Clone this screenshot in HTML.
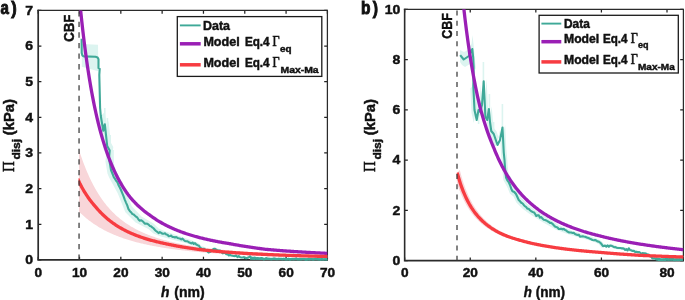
<!DOCTYPE html>
<html><head><meta charset="utf-8"><style>html,body{margin:0;padding:0;background:#fff}svg{display:block}#w{width:685px;height:300px;overflow:hidden;will-change:transform;opacity:0.999}</style></head><body><div id="w"><svg width="685" height="300" viewBox="0 0 685 300">
<rect width="685" height="300" fill="#fff"/>
<defs><clipPath id="ca"><rect x="38.2" y="10.45" width="289.5" height="250.2"/></clipPath><clipPath id="cb"><rect x="404.65" y="9.3" width="279.05" height="252.05"/></clipPath><clipPath id="cra"><rect x="78.5" y="0" width="300" height="300"/></clipPath><clipPath id="cr"><rect x="456.7" y="0" width="300" height="300"/></clipPath></defs>
<path d="M38.20,259.9 v-3.2 M38.20,10.45 v3.2 M79.51,259.9 v-3.2 M79.51,10.45 v3.2 M120.83,259.9 v-3.2 M120.83,10.45 v3.2 M162.14,259.9 v-3.2 M162.14,10.45 v3.2 M203.46,259.9 v-3.2 M203.46,10.45 v3.2 M244.77,259.9 v-3.2 M244.77,10.45 v3.2 M286.08,259.9 v-3.2 M286.08,10.45 v3.2 M327.40,259.9 v-3.2 M327.40,10.45 v3.2 M38.2,259.90 h3.2 M327.4,259.90 h-3.2 M38.2,224.26 h3.2 M327.4,224.26 h-3.2 M38.2,188.63 h3.2 M327.4,188.63 h-3.2 M38.2,152.99 h3.2 M327.4,152.99 h-3.2 M38.2,117.36 h3.2 M327.4,117.36 h-3.2 M38.2,81.72 h3.2 M327.4,81.72 h-3.2 M38.2,46.08 h3.2 M327.4,46.08 h-3.2 M38.2,10.45 h3.2 M327.4,10.45 h-3.2" stroke="#222" stroke-width="1.25" fill="none"/>
<path d="M38.2,9.85 V260.75 M37.300000000000004,259.9 H328.0" stroke="#2b2b2b" stroke-width="1.7" fill="none"/><path d="M37.35,10.45 H327.4 V259.9" stroke="#2b2b2b" stroke-width="1.25" fill="none"/>
<g clip-path="url(#ca)">
<path d="M79.00,149.85 L79.83,152.40 L80.66,154.89 L81.49,157.30 L82.32,159.65 L83.15,161.93 L83.98,164.15 L84.82,166.30 L85.65,168.39 L86.48,170.42 L87.31,172.39 L88.14,174.30 L88.97,176.16 L89.80,177.97 L90.63,179.72 L91.46,181.43 L92.29,183.08 L93.12,184.69 L93.95,186.26 L94.78,187.78 L95.62,189.25 L96.45,190.69 L97.28,192.08 L98.11,193.44 L98.94,194.76 L99.77,196.04 L100.60,197.29 L101.43,198.50 L102.26,199.69 L103.09,200.83 L103.92,201.95 L104.75,203.04 L105.58,204.10 L106.42,205.13 L107.25,206.14 L108.08,207.12 L108.91,208.07 L109.74,209.00 L110.57,209.91 L111.40,210.79 L112.23,211.65 L113.06,212.49 L113.89,213.31 L114.72,214.11 L115.55,214.88 L116.38,215.64 L117.22,216.38 L118.05,217.11 L118.88,217.81 L119.71,218.50 L120.54,219.17 L121.37,219.83 L122.20,220.47 L123.03,221.10 L123.86,221.71 L124.69,222.31 L125.52,222.89 L126.35,223.46 L127.18,224.02 L128.02,224.57 L128.85,225.10 L129.68,225.62 L130.51,226.13 L131.34,226.63 L132.17,227.12 L133.00,227.60 L133.83,228.07 L134.66,228.52 L135.49,228.97 L136.32,229.41 L137.15,229.84 L137.98,230.26 L138.82,230.67 L139.65,231.08 L140.48,231.47 L141.31,231.86 L142.14,232.24 L142.97,232.61 L143.80,232.97 L144.63,233.33 L145.46,233.68 L146.29,234.02 L147.12,234.36 L147.95,234.69 L148.78,235.01 L149.62,235.33 L150.45,235.64 L151.28,235.95 L152.11,236.25 L152.94,236.54 L153.77,236.83 L154.60,237.11 L155.43,237.39 L156.26,237.66 L157.09,237.93 L157.92,238.20 L158.75,238.45 L159.58,238.71 L160.42,238.96 L161.25,239.20 L162.08,239.44 L162.91,239.68 L163.74,239.91 L164.57,240.14 L165.40,240.36 L166.23,240.58 L167.06,240.80 L167.89,241.01 L168.72,241.22 L169.55,241.43 L170.38,241.63 L171.22,241.83 L172.05,242.03 L172.88,242.22 L173.71,242.41 L174.54,242.60 L175.37,242.78 L176.20,242.96 L177.03,243.14 L177.86,243.31 L178.69,243.49 L179.52,243.65 L180.35,243.82 L181.18,243.99 L182.02,244.15 L182.85,244.31 L183.68,244.46 L184.51,244.62 L185.34,244.77 L186.17,244.92 L187.00,245.07 L187.83,245.21 L188.66,245.35 L189.49,245.49 L190.32,245.63 L191.15,245.77 L191.98,245.90 L192.82,246.04 L193.65,246.17 L194.48,246.30 L195.31,246.42 L196.14,246.55 L196.97,246.67 L197.80,246.79 L198.63,246.91 L199.46,247.03 L200.29,247.15 L201.12,247.26 L201.95,247.38 L202.78,247.49 L203.62,247.60 L204.45,247.71 L205.28,247.82 L206.11,247.92 L206.94,248.03 L207.77,248.13 L208.60,248.23 L209.43,248.33 L210.26,248.43 L211.09,248.53 L211.92,248.62 L212.75,248.72 L213.58,248.81 L214.42,248.91 L215.25,249.00 L216.08,249.09 L216.91,249.18 L217.74,249.27 L218.57,249.35 L219.40,249.44 L220.23,249.52 L221.06,249.61 L221.89,249.69 L222.72,249.77 L223.55,249.85 L224.38,249.93 L225.22,250.01 L226.05,250.09 L226.88,250.16 L227.71,250.24 L228.54,250.31 L229.37,250.39 L230.20,250.46 L231.03,250.53 L231.86,250.61 L232.69,250.68 L233.52,250.75 L234.35,250.81 L235.18,250.88 L236.02,250.95 L236.85,251.02 L237.68,251.08 L238.51,251.15 L239.34,251.21 L240.17,251.27 L241.00,251.34 L241.83,251.40 L242.66,251.46 L243.49,251.52 L244.32,251.58 L245.15,251.64 L245.98,251.70 L246.82,251.76 L247.65,251.81 L248.48,251.87 L249.31,251.93 L250.14,251.98 L250.97,252.04 L251.80,252.09 L252.63,252.14 L253.46,252.20 L254.29,252.25 L255.12,252.30 L255.95,252.35 L256.78,252.40 L257.62,252.45 L258.45,252.50 L259.28,252.55 L260.11,252.60 L260.94,252.65 L261.77,252.70 L262.60,252.75 L263.43,252.79 L264.26,252.84 L265.09,252.88 L265.92,252.93 L266.75,252.97 L267.58,253.02 L268.42,253.06 L269.25,253.11 L270.08,253.15 L270.91,253.19 L271.74,253.23 L272.57,253.28 L273.40,253.32 L274.23,253.36 L275.06,253.40 L275.89,253.44 L276.72,253.48 L277.55,253.52 L278.38,253.56 L279.22,253.60 L280.05,253.63 L280.88,253.67 L281.71,253.71 L282.54,253.75 L283.37,253.78 L284.20,253.82 L285.03,253.86 L285.86,253.89 L286.69,253.93 L287.52,253.96 L288.35,254.00 L289.18,254.03 L290.02,254.07 L290.85,254.10 L291.68,254.13 L292.51,254.17 L293.34,254.20 L294.17,254.23 L295.00,254.26 L295.83,254.30 L296.66,254.33 L297.49,254.36 L298.32,254.39 L299.15,254.42 L299.98,254.45 L300.82,254.48 L301.65,254.51 L302.48,254.54 L303.31,254.57 L304.14,254.60 L304.97,254.63 L305.80,254.66 L306.63,254.69 L307.46,254.72 L308.29,254.74 L309.12,254.77 L309.95,254.80 L310.78,254.83 L311.62,254.85 L312.45,254.88 L313.28,254.91 L314.11,254.93 L314.94,254.96 L315.77,254.98 L316.60,255.01 L317.43,255.04 L318.26,255.06 L319.09,255.09 L319.92,255.11 L320.75,255.14 L321.58,255.16 L322.42,255.18 L323.25,255.21 L324.08,255.23 L324.91,255.26 L325.74,255.28 L326.57,255.30 L327.40,255.33 L327.40,257.96 L326.57,257.95 L325.74,257.93 L324.91,257.91 L324.08,257.89 L323.25,257.87 L322.42,257.85 L321.58,257.84 L320.75,257.82 L319.92,257.80 L319.09,257.78 L318.26,257.76 L317.43,257.74 L316.60,257.72 L315.77,257.70 L314.94,257.68 L314.11,257.66 L313.28,257.64 L312.45,257.62 L311.62,257.60 L310.78,257.58 L309.95,257.56 L309.12,257.54 L308.29,257.51 L307.46,257.49 L306.63,257.47 L305.80,257.45 L304.97,257.43 L304.14,257.41 L303.31,257.38 L302.48,257.36 L301.65,257.34 L300.82,257.32 L299.98,257.29 L299.15,257.27 L298.32,257.25 L297.49,257.22 L296.66,257.20 L295.83,257.17 L295.00,257.15 L294.17,257.13 L293.34,257.10 L292.51,257.08 L291.68,257.05 L290.85,257.03 L290.02,257.00 L289.18,256.97 L288.35,256.95 L287.52,256.92 L286.69,256.90 L285.86,256.87 L285.03,256.84 L284.20,256.82 L283.37,256.79 L282.54,256.76 L281.71,256.73 L280.88,256.71 L280.05,256.68 L279.22,256.65 L278.38,256.62 L277.55,256.59 L276.72,256.56 L275.89,256.53 L275.06,256.50 L274.23,256.47 L273.40,256.44 L272.57,256.41 L271.74,256.38 L270.91,256.35 L270.08,256.32 L269.25,256.29 L268.42,256.25 L267.58,256.22 L266.75,256.19 L265.92,256.16 L265.09,256.12 L264.26,256.09 L263.43,256.06 L262.60,256.02 L261.77,255.99 L260.94,255.95 L260.11,255.92 L259.28,255.88 L258.45,255.85 L257.62,255.81 L256.78,255.77 L255.95,255.74 L255.12,255.70 L254.29,255.66 L253.46,255.63 L252.63,255.59 L251.80,255.55 L250.97,255.51 L250.14,255.47 L249.31,255.43 L248.48,255.39 L247.65,255.35 L246.82,255.31 L245.98,255.27 L245.15,255.23 L244.32,255.18 L243.49,255.14 L242.66,255.10 L241.83,255.06 L241.00,255.01 L240.17,254.97 L239.34,254.92 L238.51,254.88 L237.68,254.83 L236.85,254.79 L236.02,254.74 L235.18,254.69 L234.35,254.65 L233.52,254.60 L232.69,254.55 L231.86,254.50 L231.03,254.45 L230.20,254.40 L229.37,254.35 L228.54,254.30 L227.71,254.25 L226.88,254.20 L226.05,254.14 L225.22,254.09 L224.38,254.04 L223.55,253.98 L222.72,253.93 L221.89,253.87 L221.06,253.82 L220.23,253.76 L219.40,253.70 L218.57,253.64 L217.74,253.58 L216.91,253.53 L216.08,253.47 L215.25,253.41 L214.42,253.34 L213.58,253.28 L212.75,253.22 L211.92,253.16 L211.09,253.09 L210.26,253.03 L209.43,252.96 L208.60,252.90 L207.77,252.83 L206.94,252.76 L206.11,252.69 L205.28,252.62 L204.45,252.55 L203.62,252.48 L202.78,252.41 L201.95,252.34 L201.12,252.26 L200.29,252.19 L199.46,252.11 L198.63,252.04 L197.80,251.96 L196.97,251.88 L196.14,251.80 L195.31,251.72 L194.48,251.64 L193.65,251.56 L192.82,251.48 L191.98,251.39 L191.15,251.31 L190.32,251.22 L189.49,251.14 L188.66,251.05 L187.83,250.96 L187.00,250.87 L186.17,250.78 L185.34,250.68 L184.51,250.59 L183.68,250.49 L182.85,250.40 L182.02,250.30 L181.18,250.20 L180.35,250.10 L179.52,250.00 L178.69,249.90 L177.86,249.79 L177.03,249.69 L176.20,249.58 L175.37,249.47 L174.54,249.36 L173.71,249.25 L172.88,249.14 L172.05,249.03 L171.22,248.91 L170.38,248.79 L169.55,248.67 L168.72,248.55 L167.89,248.43 L167.06,248.31 L166.23,248.18 L165.40,248.05 L164.57,247.92 L163.74,247.79 L162.91,247.66 L162.08,247.53 L161.25,247.39 L160.42,247.25 L159.58,247.11 L158.75,246.97 L157.92,246.82 L157.09,246.67 L156.26,246.52 L155.43,246.37 L154.60,246.22 L153.77,246.06 L152.94,245.91 L152.11,245.75 L151.28,245.58 L150.45,245.42 L149.62,245.25 L148.78,245.08 L147.95,244.90 L147.12,244.73 L146.29,244.55 L145.46,244.37 L144.63,244.18 L143.80,244.00 L142.97,243.81 L142.14,243.61 L141.31,243.42 L140.48,243.22 L139.65,243.01 L138.82,242.81 L137.98,242.60 L137.15,242.39 L136.32,242.17 L135.49,241.95 L134.66,241.73 L133.83,241.50 L133.00,241.27 L132.17,241.03 L131.34,240.79 L130.51,240.55 L129.68,240.30 L128.85,240.05 L128.02,239.80 L127.18,239.54 L126.35,239.27 L125.52,239.00 L124.69,238.73 L123.86,238.45 L123.03,238.16 L122.20,237.87 L121.37,237.58 L120.54,237.28 L119.71,236.98 L118.88,236.66 L118.05,236.35 L117.22,236.03 L116.38,235.70 L115.55,235.36 L114.72,235.02 L113.89,234.68 L113.06,234.32 L112.23,233.96 L111.40,233.59 L110.57,233.22 L109.74,232.84 L108.91,232.45 L108.08,232.05 L107.25,231.65 L106.42,231.24 L105.58,230.82 L104.75,230.39 L103.92,229.95 L103.09,229.51 L102.26,229.05 L101.43,228.59 L100.60,228.11 L99.77,227.63 L98.94,227.14 L98.11,226.64 L97.28,226.12 L96.45,225.60 L95.62,225.07 L94.78,224.52 L93.95,223.96 L93.12,223.40 L92.29,222.82 L91.46,222.23 L90.63,221.62 L89.80,221.01 L88.97,220.38 L88.14,219.74 L87.31,219.08 L86.48,218.41 L85.65,217.73 L84.82,217.03 L83.98,216.32 L83.15,215.60 L82.32,214.86 L81.49,214.10 L80.66,213.33 L79.83,212.55 L79.00,211.75Z" fill="#F8D6D9"/>
<path d="M81.80,43.90 L98.00,44.70 L98.40,71.20 L81.80,66.70Z" fill="#DCF4F0"/>
<path d="M104.56,112.24 L107.01,127.09 L108.47,120.53 L110.14,135.97 L110.82,142.38 L113.26,146.94 L112.58,154.42 L114.54,166.46 L116.10,170.50 L124.32,186.68 L131.65,206.05 L141.43,216.57 L153.66,223.59 L158.55,228.45 L164.90,231.35 L177.13,235.37 L189.35,239.40 L197.91,242.84 L201.58,245.92 L205.25,247.25 L208.42,249.58 L211.36,250.64 L213.31,248.69 L215.03,247.47 L219.92,249.33 L225.05,251.95 L231.00,254.00 L229.00,256.00 L222.95,254.05 L217.58,251.67 L212.47,250.03 L210.69,251.31 L208.64,253.36 L205.58,252.42 L202.25,250.25 L198.42,249.08 L194.59,246.16 L185.65,243.10 L172.87,239.63 L160.10,236.15 L153.45,233.55 L148.34,228.91 L135.57,222.43 L125.35,212.35 L117.68,193.32 L109.10,177.50 L107.46,173.54 L105.42,161.58 L106.14,154.06 L103.58,149.62 L102.86,143.23 L101.13,127.87 L99.59,134.51 L97.04,119.76Z" fill="#DCF4F0"/>
<path d="M104.8,108 V128 M107.4,118 V142 M110.2,135 V154 M113,150 V172 M102.6,118 V134" stroke="#DCF4F0" stroke-width="1.6" fill="none"/>
<path d="M81.60,38.80 L81.70,53.00 L82.40,55.60 L83.80,56.40 L95.50,56.80 L97.60,57.50 L98.50,59.30 L98.50,68.10 L99.70,68.90 L99.30,75.00 L100.10,108.00 L100.80,116.00 L103.30,130.80 L104.80,124.20 L106.50,139.60 L107.20,146.00 L109.70,150.50 L109.00,158.00 L111.00,170.00 L112.60,174.00 L113.80,177.18 L115.00,178.79 L116.20,180.91 L117.40,182.21 L118.60,185.29 L119.80,187.54 L121.00,190.00 L122.25,193.16 L123.50,196.09 L124.75,199.58 L126.00,202.56 L127.25,205.34 L128.50,209.20 L129.75,210.93 L131.00,212.22 L132.25,213.92 L133.50,214.38 L134.75,215.44 L136.00,216.65 L137.25,217.44 L138.50,219.50 L139.75,220.67 L141.00,220.30 L142.25,220.93 L143.50,222.10 L144.75,223.62 L146.00,223.67 L147.25,223.71 L148.50,224.54 L149.75,225.89 L151.00,226.25 L152.25,227.36 L153.50,228.24 L154.75,229.70 L156.00,231.00 L157.30,231.92 L158.60,233.09 L159.90,232.03 L161.20,232.89 L162.50,233.75 L163.75,233.72 L165.00,233.29 L166.25,234.41 L167.50,234.74 L168.75,236.19 L170.00,235.93 L171.25,235.56 L172.50,237.07 L173.75,236.95 L175.00,237.50 L176.25,237.00 L177.50,237.95 L178.75,238.33 L180.00,238.56 L181.25,239.39 L182.50,238.63 L183.75,239.99 L185.00,241.01 L186.25,241.30 L187.50,241.25 L188.75,242.27 L190.00,242.74 L191.25,243.39 L192.50,242.55 L193.75,243.99 L195.00,243.11 L196.25,244.50 L197.50,245.20 L198.75,245.54 L200.00,247.50 L201.25,248.44 L202.50,249.00 L203.75,248.75 L205.38,249.78 L207.00,251.00 L208.50,252.39 L210.00,252.00 L212.00,250.00 L213.75,248.75 L215.00,248.85 L216.25,249.70 L217.50,250.14 L218.75,250.50 L220.06,250.59 L221.38,251.97 L222.69,253.34 L224.00,253.00 L225.20,252.89 L226.40,254.25 L227.60,254.12 L228.80,255.48 L230.00,255.00 L231.25,255.49 L232.50,255.84 L233.75,256.07 L235.00,256.12 L236.25,255.55 L237.50,257.20 L238.75,256.06 L240.00,257.12 L241.25,257.56 L242.50,257.50 L243.75,257.14 L245.00,257.70 L246.25,258.27 L247.50,257.74 L248.75,257.37 L250.00,256.42 L251.25,257.45 L252.50,257.70 L253.75,257.80 L255.00,257.65 L256.25,258.38 L257.50,257.96 L258.75,258.26 L260.00,258.71 L261.25,258.01 L262.50,258.35 L263.75,259.64 L265.00,259.06 L266.25,258.04 L267.50,258.75 L268.75,258.74 L270.00,259.09 L271.25,259.45 L272.50,258.93 L273.75,258.62 L275.00,258.55 L276.25,259.27 L277.50,259.13 L278.75,258.74 L280.00,258.93 L281.25,258.84 L282.50,259.44 L283.75,258.76 L285.00,259.38 L286.25,259.59 L287.50,259.43 L288.75,258.80 L290.00,259.92 L291.25,258.93 L292.50,259.30 L293.72,259.51 L294.93,258.92 L296.15,258.43 L297.37,259.41 L298.59,259.44 L299.80,259.26 L301.02,259.44 L302.24,258.98 L303.46,258.93 L304.67,259.22 L305.89,260.25 L307.11,259.71 L308.32,259.04 L309.54,259.58 L310.76,259.06 L311.98,259.07 L313.19,259.73 L314.41,259.04 L315.63,258.46 L316.84,258.85 L318.06,259.34 L319.28,259.36 L320.50,259.92 L321.71,258.94 L322.93,259.67 L324.15,259.51 L325.37,259.23 L326.58,259.72 L327.80,259.30" stroke="#3FA998" stroke-width="2.1" fill="none" stroke-linejoin="round"/>
<path d="M250,258.6 L262,258.9 L300,259.2 L326.79999999999995,259.3" stroke="#3FA998" stroke-width="2.3" fill="none"/>
<path d="M80.20,6.00 L81.03,14.15 L81.85,21.93 L82.68,29.35 L83.51,36.43 L84.33,43.19 L85.16,49.66 L85.99,55.84 L86.81,61.76 L87.64,67.43 L88.47,72.87 L89.29,78.08 L90.12,83.08 L90.95,87.87 L91.77,92.48 L92.60,96.91 L93.43,101.17 L94.25,105.27 L95.08,109.21 L95.91,113.00 L96.74,116.66 L97.56,120.18 L98.39,123.58 L99.22,126.86 L100.04,130.02 L100.87,133.07 L101.70,136.02 L102.52,138.87 L103.35,141.62 L104.18,144.28 L105.00,146.86 L105.83,149.35 L106.66,151.76 L107.48,154.09 L108.31,156.35 L109.14,158.54 L109.96,160.67 L110.79,162.73 L111.62,164.72 L112.44,166.66 L113.27,168.54 L114.10,170.36 L114.92,172.13 L115.75,173.85 L116.58,175.52 L117.40,177.14 L118.23,178.72 L119.06,180.25 L119.88,181.74 L120.71,183.19 L121.54,184.61 L122.36,185.98 L123.19,187.32 L124.02,188.62 L124.84,189.89 L125.67,191.12 L126.50,192.32 L127.33,193.49 L128.15,194.64 L128.98,195.75 L129.81,196.84 L130.66,197.87 L131.53,198.87 L132.39,199.85 L133.25,200.80 L134.12,201.73 L134.98,202.63 L135.84,203.51 L136.70,204.37 L137.56,205.20 L138.42,206.02 L139.28,206.81 L140.13,207.59 L140.99,208.34 L141.85,209.08 L142.70,209.80 L143.55,210.50 L144.41,211.18 L145.26,211.85 L146.11,212.50 L146.96,213.14 L147.81,213.76 L148.66,214.37 L149.51,214.96 L150.35,215.54 L151.18,216.13 L152.00,216.73 L152.82,217.31 L153.64,217.88 L154.45,218.43 L155.27,218.98 L156.09,219.52 L156.91,220.04 L157.72,220.56 L158.54,221.06 L159.36,221.56 L160.18,222.04 L160.99,222.52 L161.81,222.99 L162.63,223.45 L163.45,223.90 L164.27,224.34 L165.09,224.77 L165.91,225.20 L166.72,225.61 L167.54,226.02 L168.36,226.43 L169.18,226.82 L170.00,227.21 L170.82,227.59 L171.64,227.96 L172.46,228.33 L173.28,228.69 L174.10,229.05 L174.92,229.40 L175.74,229.74 L176.56,230.08 L177.38,230.41 L178.20,230.74 L179.02,231.06 L179.84,231.37 L180.66,231.68 L181.48,231.99 L182.30,232.29 L183.12,232.58 L183.94,232.87 L184.76,233.16 L185.58,233.44 L186.40,233.71 L187.23,233.98 L188.05,234.25 L188.87,234.51 L189.69,234.77 L190.51,235.03 L191.33,235.28 L192.16,235.53 L192.98,235.77 L193.80,236.01 L194.62,236.25 L195.44,236.48 L196.27,236.71 L197.09,236.93 L197.91,237.15 L198.73,237.37 L199.55,237.59 L200.38,237.80 L201.20,238.01 L202.02,238.22 L202.85,238.42 L203.67,238.62 L204.49,238.82 L205.31,239.01 L206.14,239.20 L206.96,239.39 L207.78,239.58 L208.61,239.76 L209.43,239.94 L210.25,240.12 L211.08,240.30 L211.90,240.47 L212.72,240.64 L213.55,240.81 L214.37,240.98 L215.19,241.14 L216.02,241.30 L216.84,241.46 L217.67,241.62 L218.49,241.78 L219.31,241.93 L220.14,242.08 L220.96,242.23 L221.79,242.38 L222.61,242.52 L223.43,242.67 L224.26,242.81 L225.08,242.95 L225.91,243.09 L226.73,243.22 L227.55,243.36 L228.38,243.49 L229.20,243.62 L230.03,243.75 L230.85,243.90 L231.67,244.06 L232.49,244.21 L233.31,244.36 L234.13,244.51 L234.95,244.66 L235.77,244.80 L236.59,244.95 L237.41,245.09 L238.24,245.24 L239.06,245.38 L239.88,245.52 L240.70,245.66 L241.52,245.79 L242.34,245.93 L243.17,246.06 L243.99,246.20 L244.81,246.33 L245.63,246.46 L246.46,246.59 L247.28,246.72 L248.10,246.84 L248.92,246.97 L249.75,247.10 L250.57,247.22 L251.39,247.34 L252.21,247.46 L253.04,247.59 L253.86,247.70 L254.68,247.82 L255.51,247.94 L256.33,248.06 L257.15,248.17 L257.98,248.29 L258.80,248.40 L259.62,248.51 L260.45,248.63 L261.27,248.74 L262.10,248.85 L262.92,248.96 L263.74,249.06 L264.57,249.17 L265.39,249.27 L266.22,249.34 L267.05,249.42 L267.87,249.50 L268.70,249.57 L269.53,249.64 L270.35,249.72 L271.18,249.79 L272.01,249.86 L272.83,249.93 L273.66,250.00 L274.49,250.07 L275.31,250.14 L276.14,250.21 L276.97,250.28 L277.79,250.35 L278.62,250.41 L279.45,250.48 L280.27,250.54 L281.10,250.61 L281.93,250.67 L282.76,250.73 L283.58,250.80 L284.41,250.86 L285.24,250.92 L286.06,250.98 L286.89,251.04 L287.72,251.10 L288.54,251.16 L289.37,251.21 L290.20,251.27 L291.02,251.33 L291.85,251.38 L292.68,251.44 L293.50,251.50 L294.33,251.55 L295.16,251.60 L295.98,251.66 L296.81,251.71 L297.64,251.76 L298.46,251.82 L299.29,251.87 L300.12,251.92 L300.94,251.97 L301.77,252.02 L302.60,252.07 L303.42,252.12 L304.25,252.17 L305.08,252.22 L305.90,252.26 L306.73,252.31 L307.56,252.36 L308.38,252.41 L309.21,252.45 L310.04,252.50 L310.86,252.54 L311.69,252.59 L312.52,252.63 L313.35,252.68 L314.17,252.72 L315.00,252.76 L315.83,252.81 L316.65,252.85 L317.48,252.89 L318.31,252.93 L319.13,252.97 L319.96,253.02 L320.79,253.06 L321.61,253.10 L322.44,253.14 L323.27,253.18 L324.09,253.22 L324.92,253.26 L325.75,253.29 L326.57,253.33 L327.40,253.37" stroke="#9A1FB5" stroke-width="3.3" fill="none"/>
<path d="M77.66,178.58 L78.49,180.49 L79.33,182.33 L80.16,184.12 L81.04,185.82 L81.93,187.46 L82.82,189.04 L83.71,190.56 L84.60,192.04 L85.49,193.47 L86.38,194.85 L87.27,196.18 L88.15,197.47 L89.04,198.72 L89.92,199.93 L90.80,201.10 L91.68,202.23 L92.56,203.32 L93.44,204.39 L94.32,205.42 L95.19,206.41 L96.07,207.38 L96.90,208.35 L97.73,209.30 L98.55,210.23 L99.37,211.13 L100.19,212.00 L101.01,212.86 L101.83,213.69 L102.65,214.50 L103.47,215.29 L104.29,216.05 L105.11,216.80 L105.94,217.53 L106.76,218.24 L107.58,218.94 L108.40,219.61 L109.22,220.27 L110.04,220.92 L110.86,221.55 L111.68,222.16 L112.50,222.76 L113.32,223.34 L114.15,223.91 L114.97,224.47 L115.79,225.02 L116.61,225.55 L117.43,226.07 L118.25,226.58 L119.08,227.08 L119.90,227.57 L120.72,228.04 L121.54,228.51 L122.37,228.97 L123.19,229.41 L124.01,229.85 L124.84,230.28 L125.66,230.70 L126.48,231.11 L127.31,231.51 L128.13,231.90 L128.96,232.28 L129.78,232.66 L130.61,233.03 L131.43,233.39 L132.26,233.75 L133.08,234.10 L133.91,234.44 L134.73,234.77 L135.56,235.10 L136.39,235.42 L137.21,235.74 L138.04,236.05 L138.87,236.35 L139.69,236.65 L140.52,236.94 L141.35,237.23 L142.18,237.51 L143.00,237.79 L143.83,238.06 L144.66,238.32 L145.49,238.58 L146.32,238.84 L147.14,239.09 L147.97,239.34 L148.80,239.58 L149.63,239.82 L150.46,240.06 L151.29,240.29 L152.12,240.51 L152.95,240.74 L153.78,240.96 L154.61,241.17 L155.44,241.38 L156.27,241.59 L157.10,241.79 L157.93,242.00 L158.76,242.19 L159.59,242.39 L160.42,242.58 L161.25,242.77 L162.08,242.95 L162.91,243.13 L163.74,243.31 L164.58,243.49 L165.41,243.66 L166.23,243.85 L167.06,244.03 L167.89,244.21 L168.72,244.38 L169.55,244.56 L170.38,244.73 L171.21,244.90 L172.04,245.07 L172.87,245.23 L173.70,245.39 L174.53,245.55 L175.36,245.71 L176.19,245.86 L177.02,246.02 L177.85,246.17 L178.68,246.32 L179.51,246.47 L180.35,246.61 L181.18,246.75 L182.01,246.90 L182.84,247.04 L183.67,247.17 L184.50,247.31 L185.34,247.44 L186.17,247.58 L187.00,247.71 L187.83,247.84 L188.66,247.96 L189.50,248.09 L190.33,248.21 L191.16,248.34 L192.00,248.46 L192.83,248.58 L193.66,248.70 L194.49,248.81 L195.33,248.93 L196.16,249.04 L196.99,249.16 L197.83,249.27 L198.66,249.38 L199.49,249.49 L200.33,249.59 L201.16,249.70 L201.99,249.81 L202.83,249.91 L203.66,250.01 L204.50,250.11 L205.33,250.21 L206.17,250.30 L207.00,250.38 L207.84,250.47 L208.67,250.55 L209.51,250.63 L210.34,250.71 L211.18,250.80 L212.01,250.87 L212.85,250.95 L213.68,251.03 L214.52,251.11 L215.35,251.18 L216.19,251.26 L217.03,251.33 L217.86,251.40 L218.70,251.47 L219.53,251.55 L220.37,251.62 L221.20,251.68 L222.04,251.75 L222.88,251.82 L223.71,251.89 L224.55,251.95 L225.38,252.02 L226.22,252.08 L227.05,252.15 L227.89,252.21 L228.73,252.27 L229.56,252.33 L230.40,252.39 L231.23,252.45 L232.07,252.51 L232.91,252.57 L233.74,252.63 L234.58,252.69 L235.41,252.75 L236.25,252.80 L237.09,252.86 L237.92,252.91 L238.76,252.97 L239.59,253.02 L240.43,253.07 L241.27,253.13 L242.10,253.18 L242.94,253.23 L243.77,253.28 L244.61,253.33 L245.45,253.38 L246.28,253.43 L247.12,253.48 L247.95,253.53 L248.79,253.57 L249.63,253.62 L250.46,253.67 L251.30,253.71 L252.13,253.76 L252.97,253.80 L253.81,253.85 L254.64,253.89 L255.48,253.94 L256.32,253.98 L257.15,254.02 L257.99,254.06 L258.82,254.11 L259.66,254.15 L260.50,254.19 L261.33,254.23 L262.17,254.27 L263.01,254.31 L263.84,254.35 L264.68,254.39 L265.51,254.43 L266.35,254.47 L267.19,254.50 L268.02,254.54 L268.86,254.58 L269.70,254.62 L270.53,254.65 L271.37,254.69 L272.21,254.72 L273.04,254.76 L273.88,254.79 L274.71,254.83 L275.55,254.86 L276.39,254.90 L277.22,254.93 L278.06,254.97 L278.90,255.00 L279.73,255.03 L280.57,255.06 L281.41,255.10 L282.24,255.13 L283.08,255.16 L283.92,255.19 L284.75,255.22 L285.59,255.25 L286.42,255.28 L287.26,255.31 L288.10,255.34 L288.93,255.37 L289.77,255.40 L290.61,255.43 L291.44,255.46 L292.28,255.49 L293.12,255.52 L293.95,255.55 L294.79,255.57 L295.63,255.60 L296.46,255.63 L297.30,255.66 L298.14,255.68 L298.97,255.71 L299.81,255.73 L300.64,255.76 L301.48,255.79 L302.32,255.81 L303.15,255.84 L303.99,255.86 L304.83,255.89 L305.66,255.91 L306.50,255.94 L307.34,255.96 L308.17,255.99 L309.01,256.01 L309.85,256.03 L310.68,256.06 L311.52,256.08 L312.36,256.10 L313.19,256.13 L314.03,256.15 L314.87,256.17 L315.70,256.20 L316.54,256.22 L317.38,256.24 L318.21,256.26 L319.05,256.28 L319.89,256.31 L320.72,256.33 L321.56,256.35 L322.40,256.37 L323.23,256.39 L324.07,256.41 L324.91,256.43 L325.74,256.45 L326.58,256.47 L327.42,256.49" stroke="#F73C41" stroke-width="3.3" fill="none" clip-path="url(#cra)"/>
<path d="M79.05,11.2 V259.9" stroke="#383838" stroke-width="1.25" stroke-dasharray="5.3 5.28" fill="none"/>
</g>
<path d="M404.65,260.6 v-3.2 M404.65,9.3 v3.2 M470.24,260.6 v-3.2 M470.24,9.3 v3.2 M535.83,260.6 v-3.2 M535.83,9.3 v3.2 M601.41,260.6 v-3.2 M601.41,9.3 v3.2 M667.00,260.6 v-3.2 M667.00,9.3 v3.2 M404.65,260.60 h3.2 M683.4,260.60 h-3.2 M404.65,210.34 h3.2 M683.4,210.34 h-3.2 M404.65,160.08 h3.2 M683.4,160.08 h-3.2 M404.65,109.82 h3.2 M683.4,109.82 h-3.2 M404.65,59.56 h3.2 M683.4,59.56 h-3.2 M404.65,9.30 h3.2 M683.4,9.30 h-3.2" stroke="#222" stroke-width="1.25" fill="none"/>
<path d="M404.65,8.700000000000001 V261.40000000000003 M403.84999999999997,260.6 H684.0" stroke="#2b2b2b" stroke-width="1.6" fill="none"/><path d="M403.84999999999997,9.3 H683.4 V260.6" stroke="#2b2b2b" stroke-width="1.25" fill="none"/>
<g clip-path="url(#cb)">
<path d="M459.79,170.05 L460.53,172.85 L461.26,175.51 L462.00,178.04 L462.73,180.43 L463.46,182.71 L464.20,184.87 L464.93,186.93 L465.66,188.90 L466.40,190.78 L467.13,192.57 L467.87,194.28 L468.60,195.91 L469.33,197.48 L470.07,198.98 L470.80,200.42 L471.54,201.81 L472.27,203.13 L473.00,204.41 L473.74,205.63 L474.47,206.81 L475.20,207.95 L475.94,209.05 L476.67,210.10 L477.41,211.12 L478.14,212.10 L478.87,213.05 L479.61,213.97 L480.34,214.86 L481.07,215.72 L481.81,216.55 L482.54,217.35 L483.28,218.13 L484.01,218.89 L484.74,219.62 L485.48,220.33 L486.21,221.02 L486.95,221.69 L487.68,222.34 L488.41,222.98 L489.15,223.59 L489.88,224.19 L490.61,224.77 L491.35,225.34 L492.08,225.89 L492.82,226.43 L493.55,226.96 L494.28,227.47 L495.02,227.97 L495.75,228.45 L496.49,228.93 L497.22,229.39 L497.95,229.85 L498.69,230.29 L499.42,230.72 L500.15,231.14 L500.89,231.56 L501.62,231.96 L502.36,232.36 L503.09,232.74 L503.82,233.12 L504.56,233.49 L505.29,233.86 L506.03,234.21 L506.76,234.56 L507.49,234.90 L508.23,235.24 L508.96,235.57 L509.69,235.89 L510.43,236.20 L511.16,236.51 L511.90,236.82 L512.63,237.12 L513.36,237.41 L514.10,237.70 L514.83,237.98 L515.56,238.26 L516.30,238.53 L517.03,238.80 L517.77,239.07 L518.50,239.33 L519.23,239.58 L519.97,239.83 L520.70,240.08 L521.44,240.32 L522.17,240.56 L522.90,240.80 L523.64,241.03 L524.37,241.25 L525.13,241.46 L525.89,241.65 L526.64,241.85 L527.40,242.04 L528.16,242.23 L528.91,242.42 L529.67,242.60 L530.43,242.78 L531.18,242.96 L531.94,243.13 L532.70,243.30 L533.45,243.47 L534.21,243.64 L534.97,243.80 L535.72,243.96 L536.48,244.12 L537.23,244.28 L537.99,244.43 L538.75,244.59 L539.50,244.74 L540.26,244.88 L541.02,245.03 L541.77,245.17 L542.53,245.31 L543.29,245.45 L544.04,245.59 L544.80,245.73 L545.56,245.86 L546.31,245.99 L547.07,246.12 L547.83,246.25 L548.58,246.38 L549.34,246.50 L550.10,246.63 L550.85,246.75 L551.61,246.87 L552.37,246.99 L553.12,247.10 L553.88,247.22 L554.63,247.33 L555.39,247.45 L556.15,247.56 L556.90,247.67 L557.66,247.78 L558.42,247.88 L559.17,247.99 L559.93,248.09 L560.69,248.20 L561.44,248.30 L562.20,248.40 L562.96,248.50 L563.71,248.60 L564.47,248.69 L565.23,248.79 L565.98,248.89 L566.74,248.98 L567.50,249.07 L568.25,249.16 L569.01,249.25 L569.77,249.34 L570.52,249.43 L571.28,249.52 L572.03,249.61 L572.79,249.69 L573.55,249.78 L574.30,249.86 L575.06,249.94 L575.82,250.02 L576.57,250.11 L577.33,250.19 L578.09,250.27 L578.84,250.34 L579.60,250.42 L580.36,250.50 L581.11,250.57 L581.87,250.65 L582.63,250.72 L583.38,250.80 L584.14,250.87 L584.90,250.94 L585.65,251.01 L586.41,251.08 L587.17,251.15 L587.92,251.22 L588.68,251.29 L589.43,251.36 L590.19,251.43 L590.95,251.49 L591.70,251.56 L592.46,251.62 L593.22,251.69 L593.97,251.75 L594.73,251.81 L595.49,251.88 L596.24,251.94 L597.00,252.00 L597.76,252.06 L598.51,252.12 L599.27,252.18 L600.03,252.24 L600.78,252.30 L601.54,252.35 L602.30,252.41 L603.05,252.47 L603.81,252.52 L604.57,252.58 L605.32,252.64 L606.08,252.69 L606.83,252.74 L607.59,252.80 L608.35,252.85 L609.10,252.90 L609.86,252.96 L610.62,253.01 L611.37,253.06 L612.13,253.11 L612.89,253.16 L613.64,253.21 L614.40,253.26 L615.16,253.31 L615.91,253.36 L616.67,253.40 L617.43,253.45 L618.18,253.50 L618.94,253.54 L619.70,253.59 L620.45,253.64 L621.21,253.68 L621.97,253.73 L622.72,253.77 L623.48,253.82 L624.23,253.86 L624.99,253.90 L625.75,253.95 L626.50,253.99 L627.26,254.03 L628.02,254.07 L628.77,254.12 L629.53,254.16 L630.29,254.20 L631.04,254.24 L631.80,254.28 L632.56,254.32 L633.31,254.36 L634.07,254.40 L634.83,254.44 L635.58,254.48 L636.34,254.51 L637.10,254.55 L637.85,254.59 L638.61,254.63 L639.37,254.66 L640.12,254.70 L640.88,254.74 L641.63,254.77 L642.39,254.81 L643.15,254.85 L643.90,254.88 L644.66,254.92 L645.42,254.95 L646.17,254.99 L646.93,255.02 L647.69,255.05 L648.44,255.09 L649.20,255.12 L649.96,255.15 L650.71,255.19 L651.47,255.22 L652.23,255.25 L652.98,255.28 L653.74,255.31 L654.50,255.35 L655.25,255.38 L656.01,255.41 L656.77,255.44 L657.52,255.47 L658.28,255.50 L659.03,255.53 L659.79,255.56 L660.55,255.59 L661.30,255.62 L662.06,255.65 L662.82,255.68 L663.57,255.71 L664.33,255.73 L665.09,255.76 L665.84,255.79 L666.60,255.82 L667.36,255.85 L668.11,255.87 L668.87,255.90 L669.63,255.93 L670.38,255.95 L671.14,255.98 L671.90,256.01 L672.65,256.03 L673.41,256.06 L674.17,256.08 L674.92,256.11 L675.68,256.14 L676.43,256.16 L677.19,256.19 L677.95,256.21 L678.70,256.23 L679.46,256.26 L680.22,256.28 L680.97,256.31 L681.73,256.33 L682.49,256.35 L683.24,256.38 L684.00,256.40 L682.80,257.60 L682.04,257.58 L681.29,257.55 L680.53,257.53 L679.77,257.51 L679.02,257.48 L678.26,257.46 L677.50,257.43 L676.75,257.41 L675.99,257.39 L675.23,257.36 L674.48,257.34 L673.72,257.31 L672.97,257.28 L672.21,257.26 L671.45,257.23 L670.70,257.21 L669.94,257.18 L669.18,257.15 L668.43,257.13 L667.67,257.10 L666.91,257.07 L666.16,257.05 L665.40,257.02 L664.64,256.99 L663.89,256.96 L663.13,256.93 L662.37,256.91 L661.62,256.88 L660.86,256.85 L660.10,256.82 L659.35,256.79 L658.59,256.76 L657.83,256.73 L657.08,256.70 L656.32,256.67 L655.57,256.64 L654.81,256.61 L654.05,256.58 L653.30,256.55 L652.54,256.51 L651.78,256.48 L651.03,256.45 L650.27,256.42 L649.51,256.39 L648.76,256.35 L648.00,256.32 L647.24,256.29 L646.49,256.25 L645.73,256.22 L644.97,256.19 L644.22,256.15 L643.46,256.12 L642.70,256.08 L641.95,256.05 L641.19,256.01 L640.43,255.97 L639.68,255.94 L638.92,255.90 L638.17,255.86 L637.41,255.83 L636.65,255.79 L635.90,255.75 L635.14,255.71 L634.38,255.68 L633.63,255.64 L632.87,255.60 L632.11,255.56 L631.36,255.52 L630.60,255.48 L629.84,255.44 L629.09,255.40 L628.33,255.36 L627.57,255.32 L626.82,255.27 L626.06,255.23 L625.30,255.19 L624.55,255.15 L623.79,255.10 L623.03,255.06 L622.28,255.02 L621.52,254.97 L620.77,254.93 L620.01,254.88 L619.25,254.84 L618.50,254.79 L617.74,254.74 L616.98,254.70 L616.23,254.65 L615.47,254.60 L614.71,254.56 L613.96,254.51 L613.20,254.46 L612.44,254.41 L611.69,254.36 L610.93,254.31 L610.17,254.26 L609.42,254.21 L608.66,254.16 L607.90,254.10 L607.15,254.05 L606.39,254.00 L605.63,253.94 L604.88,253.89 L604.12,253.84 L603.37,253.78 L602.61,253.72 L601.85,253.67 L601.10,253.61 L600.34,253.55 L599.58,253.50 L598.83,253.44 L598.07,253.38 L597.31,253.32 L596.56,253.26 L595.80,253.20 L595.04,253.14 L594.29,253.08 L593.53,253.01 L592.77,252.95 L592.02,252.89 L591.26,252.82 L590.50,252.76 L589.75,252.69 L588.99,252.63 L588.23,252.56 L587.48,252.49 L586.72,252.42 L585.97,252.35 L585.21,252.28 L584.45,252.21 L583.70,252.14 L582.94,252.07 L582.18,252.00 L581.43,251.92 L580.67,251.85 L579.91,251.77 L579.16,251.70 L578.40,251.62 L577.64,251.54 L576.89,251.47 L576.13,251.39 L575.37,251.31 L574.62,251.22 L573.86,251.14 L573.10,251.06 L572.35,250.98 L571.59,250.89 L570.83,250.81 L570.08,250.72 L569.32,250.63 L568.57,250.54 L567.81,250.45 L567.05,250.36 L566.30,250.27 L565.54,250.18 L564.78,250.09 L564.03,249.99 L563.27,249.89 L562.51,249.80 L561.76,249.70 L561.00,249.60 L560.24,249.50 L559.49,249.40 L558.73,249.29 L557.97,249.19 L557.22,249.08 L556.46,248.98 L555.70,248.87 L554.95,248.76 L554.19,248.65 L553.43,248.53 L552.68,248.42 L551.92,248.30 L551.17,248.19 L550.41,248.07 L549.65,247.95 L548.90,247.83 L548.14,247.70 L547.38,247.58 L546.63,247.45 L545.87,247.32 L545.11,247.19 L544.36,247.06 L543.60,246.93 L542.84,246.79 L542.09,246.65 L541.33,246.51 L540.57,246.37 L539.82,246.23 L539.06,246.08 L538.30,245.94 L537.55,245.79 L536.79,245.63 L536.03,245.48 L535.28,245.32 L534.52,245.16 L533.77,245.00 L533.01,244.84 L532.25,244.67 L531.50,244.50 L530.74,244.33 L529.98,244.16 L529.23,243.98 L528.47,243.80 L527.71,243.62 L526.96,243.43 L526.20,243.24 L525.44,243.05 L524.69,242.85 L523.93,242.66 L523.17,242.45 L522.40,242.27 L521.62,242.08 L520.84,241.89 L520.06,241.70 L519.28,241.50 L518.50,241.30 L517.72,241.09 L516.94,240.88 L516.16,240.67 L515.38,240.45 L514.61,240.23 L513.83,240.00 L513.05,239.77 L512.27,239.53 L511.49,239.29 L510.71,239.04 L509.93,238.78 L509.15,238.52 L508.37,238.26 L507.59,237.99 L506.81,237.71 L506.03,237.43 L505.26,237.14 L504.48,236.84 L503.70,236.54 L502.92,236.23 L502.14,235.91 L501.36,235.59 L500.58,235.25 L499.80,234.91 L499.02,234.56 L498.24,234.20 L497.46,233.83 L496.68,233.46 L495.90,233.07 L495.13,232.67 L494.35,232.27 L493.57,231.85 L492.79,231.42 L492.01,230.98 L491.23,230.52 L490.45,230.06 L489.67,229.58 L488.89,229.08 L488.11,228.58 L487.33,228.05 L486.55,227.52 L485.77,226.96 L485.00,226.39 L484.22,225.81 L483.44,225.20 L482.66,224.57 L481.88,223.93 L481.10,223.26 L480.32,222.58 L479.54,221.87 L478.76,221.13 L477.98,220.37 L477.20,219.59 L476.42,218.77 L475.64,217.93 L474.87,217.06 L474.09,216.16 L473.31,215.22 L472.53,214.25 L471.75,213.23 L470.97,212.19 L470.19,211.09 L469.41,209.96 L468.63,208.78 L467.85,207.55 L467.07,206.27 L466.29,204.93 L465.52,203.54 L464.74,202.08 L463.96,200.56 L463.18,198.97 L462.40,197.30 L461.62,195.55 L460.84,193.73 L460.06,191.80 L459.28,189.79 L458.50,187.67 L457.72,185.44 L456.94,183.09 L456.16,180.61 L455.39,178.00 L454.61,175.23Z" fill="#F8D6D9" clip-path="url(#cr)"/>
<path d="M460.00,50.00 L464.00,52.00 L468.00,50.00 L471.50,44.00 L472.50,35.00 L473.50,44.00 L475.00,60.00 L476.00,70.00 L474.50,67.00 L470.00,64.00 L465.00,67.00 L462.00,65.00 L460.00,62.00Z" fill="#DCF4F0"/>
<path d="M476.31,82.59 L477.49,107.01 L479.67,117.03 L481.45,107.05 L483.42,109.08 L484.90,101.80 L486.58,78.42 L488.26,113.94 L490.04,117.16 L491.72,106.18 L492.81,119.19 L494.04,128.21 L496.51,131.24 L500.22,142.28 L502.69,137.31 L505.16,124.84 L506.39,149.86 L507.13,157.37 L507.63,164.87 L508.62,174.88 L512.57,182.43 L515.04,188.71 L518.50,191.50 L521.21,197.54 L527.39,203.86 L533.56,208.94 L537.27,211.48 L547.15,217.85 L559.50,225.50 L571.85,230.65 L584.20,234.55 L596.55,238.45 L601.49,241.01 L604.45,244.80 L606.43,244.17 L612.85,244.40 L619.27,246.73 L625.20,247.55 L631.13,248.87 L637.55,250.70 L635.45,252.80 L628.87,251.13 L622.80,249.95 L616.73,249.27 L610.15,247.10 L603.57,247.03 L601.55,247.70 L598.51,243.99 L593.45,241.55 L580.80,237.95 L568.15,234.35 L555.50,229.50 L542.85,222.15 L532.73,216.02 L528.94,213.56 L522.61,208.64 L516.29,202.46 L513.50,196.50 L509.96,193.79 L507.43,187.57 L503.38,180.12 L502.37,170.13 L501.87,162.63 L501.11,155.14 L499.84,130.16 L497.31,142.69 L494.78,147.72 L490.99,136.76 L488.46,133.79 L487.19,124.81 L486.08,111.82 L484.36,122.84 L482.54,119.66 L480.82,84.18 L479.10,107.60 L477.58,114.92 L475.55,112.95 L473.73,122.97 L471.51,112.99 L470.29,88.61Z" fill="#DCF4F0"/>
<path d="M483.4,62 V84 M489.4,94 V110 M502.4,104 V129 M478.6,100 V124 M493.6,122 V136 M510,176 V190 M516,186 V198" stroke="#DCF4F0" stroke-width="1.6" fill="none"/>
<path d="M460.20,55.10 L463.70,59.50 L468.90,56.00 L472.30,49.00 L473.20,57.70 L473.70,68.00 L473.30,85.60 L474.50,110.00 L476.70,120.00 L478.50,110.00 L480.50,112.00 L482.00,104.70 L483.70,81.30 L485.40,116.80 L487.20,120.00 L488.90,109.00 L490.00,122.00 L491.25,131.00 L493.75,134.00 L497.50,145.00 L500.00,140.00 L502.50,127.50 L503.75,152.50 L504.50,160.00 L505.00,167.50 L506.00,177.50 L507.33,180.27 L508.67,182.03 L510.00,185.00 L511.25,188.71 L512.50,191.25 L514.25,191.95 L516.00,194.00 L517.38,197.03 L518.75,200.00 L520.00,201.25 L521.25,202.73 L522.50,203.35 L523.75,204.98 L525.00,206.25 L526.25,207.17 L527.50,208.80 L528.75,208.81 L530.00,210.29 L531.25,211.25 L532.50,211.94 L533.75,212.20 L535.00,213.75 L536.25,216.00 L537.50,215.27 L538.75,215.28 L540.00,217.65 L541.25,217.07 L542.50,218.64 L543.75,219.69 L545.00,220.00 L546.25,220.39 L547.50,221.26 L548.75,221.95 L550.00,222.93 L551.25,222.86 L552.50,223.82 L553.75,225.17 L555.00,226.57 L556.25,227.10 L557.50,227.50 L558.75,228.95 L560.00,228.88 L561.25,228.72 L562.50,229.43 L563.75,228.88 L565.00,229.97 L566.25,230.44 L567.50,231.65 L568.75,232.36 L570.00,232.50 L571.25,232.57 L572.50,232.93 L573.75,232.77 L575.00,233.93 L576.25,234.51 L577.50,235.00 L578.75,234.69 L580.00,236.59 L581.25,236.53 L582.50,236.25 L583.75,236.57 L585.00,236.71 L586.25,237.20 L587.50,237.83 L588.75,238.11 L590.00,238.77 L591.25,239.30 L592.50,240.00 L593.75,240.26 L595.00,240.00 L596.25,240.56 L597.50,241.46 L598.75,241.66 L600.00,242.50 L601.50,244.05 L603.00,246.25 L605.00,245.60 L606.30,246.68 L607.60,245.41 L608.90,246.78 L610.20,245.53 L611.50,245.75 L612.80,246.34 L614.10,247.25 L615.40,247.11 L616.70,247.77 L618.00,248.00 L619.20,248.02 L620.40,248.04 L621.60,248.36 L622.80,248.24 L624.00,248.75 L625.20,249.90 L626.40,249.16 L627.60,250.45 L628.80,248.27 L630.00,250.00 L631.30,250.36 L632.60,251.01 L633.90,250.89 L635.20,252.00 L636.50,251.75 L637.71,252.32 L638.93,252.03 L640.14,252.63 L641.36,254.15 L642.57,252.96 L643.79,253.20 L645.00,253.25 L646.20,253.66 L647.40,254.62 L648.60,254.49 L649.80,255.74 L651.00,256.50 L652.35,258.41 L653.70,258.21 L655.05,258.53 L656.40,259.35 L657.75,259.30 L658.95,260.35 L660.15,259.66 L661.36,260.48 L662.56,259.95 L663.76,259.46 L664.96,260.33 L666.17,258.10 L667.37,259.10 L668.57,259.57 L669.77,258.94 L670.98,259.37 L672.18,259.12 L673.38,259.13 L674.58,260.99 L675.79,259.86 L676.99,259.50 L678.19,260.27 L679.39,259.43 L680.60,260.06 L681.80,259.78 L683.00,259.60" stroke="#3FA998" stroke-width="2.1" fill="none" stroke-linejoin="round"/>
<path d="M655.5,258.6 L660,259.4 L682.8,259.5" stroke="#3FA998" stroke-width="2.7" fill="none"/>
<path d="M462.00,-8.47 L462.74,-1.35 L463.48,5.48 L464.22,12.04 L464.96,18.34 L465.70,24.40 L466.44,30.23 L467.18,35.83 L467.92,41.23 L468.66,46.43 L469.40,51.44 L470.15,56.27 L470.89,60.92 L471.63,65.42 L472.37,69.76 L473.11,73.95 L473.85,78.00 L474.59,81.92 L475.33,85.71 L476.07,89.37 L476.81,92.92 L477.55,96.35 L478.29,99.68 L479.03,102.90 L479.77,106.02 L480.55,109.04 L481.35,111.96 L482.16,114.79 L482.96,117.54 L483.76,120.21 L484.56,122.79 L485.36,125.31 L486.16,127.75 L486.96,130.12 L487.75,132.42 L488.55,134.66 L489.35,136.83 L490.15,138.95 L490.94,141.01 L491.74,143.01 L492.54,144.95 L493.33,146.85 L494.12,148.70 L494.86,150.52 L495.59,152.29 L496.33,154.02 L497.07,155.71 L497.80,157.35 L498.54,158.95 L499.28,160.52 L500.01,162.05 L500.75,163.54 L501.48,164.99 L502.22,166.42 L502.95,167.80 L503.69,169.16 L504.43,170.49 L505.16,171.78 L505.90,173.05 L506.63,174.29 L507.37,175.50 L508.10,176.68 L508.84,177.84 L509.57,178.98 L510.30,180.09 L511.04,181.17 L511.77,182.24 L512.51,183.28 L513.24,184.30 L513.98,185.29 L514.71,186.27 L515.44,187.23 L516.18,188.17 L516.91,189.09 L517.64,189.99 L518.38,190.87 L519.11,191.74 L519.85,192.59 L520.58,193.42 L521.31,194.24 L522.05,195.04 L522.78,195.83 L523.51,196.60 L524.25,197.36 L524.98,198.10 L525.71,198.83 L526.45,199.55 L527.18,200.25 L527.91,200.94 L528.65,201.62 L529.38,202.29 L530.11,202.94 L530.84,203.59 L531.58,204.22 L532.31,204.84 L533.04,205.46 L533.77,206.06 L534.50,206.65 L535.23,207.24 L535.96,207.81 L536.70,208.37 L537.43,208.93 L538.16,209.47 L538.89,210.01 L539.62,210.54 L540.36,211.06 L541.09,211.57 L541.82,212.07 L542.55,212.57 L543.28,213.05 L544.02,213.53 L544.75,214.01 L545.48,214.47 L546.21,214.93 L546.95,215.38 L547.68,215.82 L548.41,216.26 L549.15,216.69 L549.88,217.12 L550.61,217.54 L551.35,217.95 L552.08,218.36 L552.81,218.76 L553.55,219.15 L554.28,219.54 L555.01,219.92 L555.75,220.30 L556.48,220.67 L557.22,221.04 L557.95,221.40 L558.68,221.76 L559.42,222.11 L560.15,222.46 L560.89,222.80 L561.62,223.14 L562.36,223.48 L563.09,223.81 L563.83,224.13 L564.56,224.45 L565.29,224.77 L566.03,225.08 L566.77,225.39 L567.50,225.69 L568.24,225.99 L568.97,226.29 L569.71,226.58 L570.44,226.87 L571.18,227.15 L571.91,227.43 L572.65,227.71 L573.38,227.98 L574.12,228.25 L574.86,228.52 L575.59,228.79 L576.33,229.05 L577.06,229.30 L577.80,229.56 L578.54,229.81 L579.27,230.06 L580.01,230.30 L580.75,230.55 L581.48,230.78 L582.22,231.02 L582.96,231.25 L583.69,231.49 L584.43,231.71 L585.17,231.94 L585.90,232.16 L586.64,232.38 L587.38,232.60 L588.11,232.82 L588.85,233.03 L589.59,233.24 L590.33,233.45 L591.06,233.65 L591.80,233.86 L592.54,234.06 L593.27,234.26 L594.01,234.45 L594.75,234.65 L595.49,234.84 L596.22,235.03 L596.96,235.22 L597.70,235.40 L598.44,235.59 L599.18,235.77 L599.91,235.95 L600.65,236.14 L601.38,236.32 L602.12,236.51 L602.85,236.69 L603.59,236.87 L604.33,237.05 L605.06,237.23 L605.80,237.41 L606.53,237.59 L607.27,237.76 L608.01,237.93 L608.74,238.10 L609.48,238.27 L610.21,238.44 L610.95,238.60 L611.69,238.76 L612.42,238.93 L613.16,239.09 L613.90,239.25 L614.63,239.40 L615.37,239.56 L616.11,239.72 L616.84,239.87 L617.58,240.02 L618.32,240.17 L619.05,240.32 L619.79,240.47 L620.53,240.62 L621.27,240.76 L622.00,240.91 L622.74,241.05 L623.48,241.19 L624.22,241.33 L624.95,241.47 L625.69,241.61 L626.43,241.75 L627.17,241.88 L627.90,242.02 L628.64,242.15 L629.38,242.28 L630.12,242.41 L630.85,242.54 L631.59,242.67 L632.33,242.80 L633.07,242.93 L633.81,243.05 L634.55,243.18 L635.28,243.30 L636.02,243.42 L636.76,243.55 L637.50,243.67 L638.24,243.79 L638.97,243.91 L639.71,244.02 L640.45,244.14 L641.19,244.26 L641.93,244.37 L642.67,244.49 L643.41,244.60 L644.14,244.72 L644.88,244.83 L645.62,244.94 L646.36,245.05 L647.10,245.16 L647.84,245.27 L648.58,245.38 L649.31,245.48 L650.05,245.59 L650.79,245.70 L651.53,245.80 L652.27,245.91 L653.01,246.01 L653.75,246.11 L654.49,246.21 L655.23,246.31 L655.96,246.42 L656.70,246.52 L657.44,246.61 L658.18,246.71 L658.92,246.81 L659.66,246.91 L660.40,247.00 L661.14,247.10 L661.88,247.19 L662.62,247.29 L663.36,247.38 L664.10,247.47 L664.83,247.57 L665.57,247.66 L666.31,247.75 L667.05,247.84 L667.79,247.93 L668.53,248.02 L669.27,248.11 L670.01,248.20 L670.75,248.28 L671.49,248.37 L672.23,248.46 L672.97,248.54 L673.71,248.63 L674.45,248.71 L675.19,248.80 L675.93,248.88 L676.67,248.96 L677.41,249.05 L678.15,249.13 L678.89,249.21 L679.62,249.29 L680.36,249.37 L681.10,249.45 L681.84,249.53 L682.58,249.61 L683.32,249.68" stroke="#9A1FB5" stroke-width="3.3" fill="none"/>
<path d="M457.20,172.64 L457.96,175.43 L458.71,178.06 L459.47,180.56 L460.23,182.93 L460.98,185.19 L461.74,187.33 L462.50,189.37 L463.25,191.31 L464.01,193.17 L464.77,194.93 L465.52,196.62 L466.28,198.24 L467.03,199.78 L467.79,201.26 L468.55,202.68 L469.30,204.04 L470.06,205.34 L470.82,206.59 L471.57,207.80 L472.33,208.95 L473.09,210.07 L473.84,211.14 L474.60,212.17 L475.36,213.17 L476.11,214.13 L476.87,215.06 L477.63,215.95 L478.38,216.82 L479.14,217.65 L479.90,218.46 L480.65,219.24 L481.41,220.00 L482.17,220.73 L482.92,221.44 L483.68,222.13 L484.43,222.80 L485.19,223.45 L485.95,224.07 L486.70,224.68 L487.46,225.28 L488.22,225.85 L488.97,226.41 L489.73,226.96 L490.49,227.49 L491.24,228.00 L492.00,228.51 L492.76,229.00 L493.51,229.47 L494.27,229.94 L495.03,230.39 L495.78,230.83 L496.54,231.26 L497.30,231.68 L498.05,232.09 L498.81,232.49 L499.57,232.88 L500.33,233.25 L501.09,233.61 L501.85,233.96 L502.62,234.30 L503.38,234.63 L504.15,234.95 L504.91,235.26 L505.67,235.57 L506.44,235.87 L507.20,236.17 L507.96,236.46 L508.72,236.74 L509.48,237.01 L510.25,237.28 L511.01,237.55 L511.77,237.80 L512.53,238.06 L513.29,238.30 L514.05,238.54 L514.81,238.78 L515.57,239.01 L516.33,239.24 L517.09,239.46 L517.85,239.68 L518.61,239.89 L519.37,240.10 L520.13,240.31 L520.89,240.53 L521.64,240.75 L522.40,240.96 L523.15,241.17 L523.90,241.37 L524.66,241.57 L525.41,241.77 L526.17,241.97 L526.92,242.16 L527.68,242.35 L528.43,242.53 L529.19,242.71 L529.94,242.89 L530.70,243.07 L531.45,243.24 L532.21,243.42 L532.96,243.58 L533.72,243.75 L534.47,243.91 L535.23,244.08 L535.98,244.23 L536.74,244.39 L537.49,244.54 L538.25,244.70 L539.00,244.85 L539.76,244.99 L540.51,245.14 L541.27,245.28 L542.02,245.42 L542.78,245.56 L543.53,245.70 L544.29,245.84 L545.04,245.97 L545.80,246.10 L546.55,246.23 L547.31,246.36 L548.06,246.49 L548.82,246.61 L549.58,246.73 L550.33,246.85 L551.09,246.97 L551.84,247.09 L552.60,247.21 L553.35,247.33 L554.11,247.44 L554.86,247.55 L555.62,247.66 L556.38,247.77 L557.13,247.88 L557.89,247.99 L558.64,248.09 L559.40,248.20 L560.15,248.30 L560.91,248.40 L561.67,248.50 L562.42,248.60 L563.18,248.70 L563.93,248.80 L564.69,248.89 L565.44,248.99 L566.20,249.08 L566.96,249.18 L567.71,249.27 L568.47,249.36 L569.22,249.45 L569.98,249.54 L570.74,249.62 L571.49,249.71 L572.25,249.79 L573.00,249.88 L573.76,249.96 L574.51,250.05 L575.27,250.13 L576.03,250.21 L576.78,250.29 L577.54,250.37 L578.29,250.45 L579.05,250.52 L579.81,250.60 L580.56,250.68 L581.32,250.75 L582.07,250.83 L582.83,250.90 L583.59,250.97 L584.34,251.04 L585.10,251.11 L585.85,251.19 L586.61,251.25 L587.37,251.32 L588.12,251.39 L588.88,251.46 L589.64,251.53 L590.39,251.59 L591.15,251.66 L591.90,251.72 L592.66,251.79 L593.42,251.85 L594.17,251.91 L594.93,251.98 L595.68,252.04 L596.44,252.10 L597.20,252.16 L597.95,252.22 L598.71,252.28 L599.46,252.34 L600.22,252.40 L600.98,252.47 L601.73,252.53 L602.49,252.60 L603.24,252.67 L604.00,252.73 L604.75,252.80 L605.51,252.86 L606.26,252.92 L607.02,252.99 L607.78,253.05 L608.53,253.11 L609.29,253.17 L610.04,253.23 L610.80,253.29 L611.55,253.35 L612.31,253.41 L613.07,253.47 L613.82,253.53 L614.58,253.59 L615.33,253.65 L616.09,253.70 L616.84,253.76 L617.60,253.82 L618.36,253.87 L619.11,253.93 L619.87,253.99 L620.62,254.04 L621.38,254.10 L622.13,254.15 L622.89,254.20 L623.65,254.26 L624.40,254.31 L625.16,254.36 L625.91,254.41 L626.67,254.47 L627.43,254.52 L628.18,254.57 L628.94,254.62 L629.69,254.67 L630.45,254.72 L631.21,254.77 L631.96,254.82 L632.72,254.87 L633.47,254.92 L634.23,254.97 L634.99,255.01 L635.74,255.06 L636.50,255.11 L637.25,255.16 L638.01,255.20 L638.77,255.25 L639.52,255.30 L640.28,255.34 L641.03,255.37 L641.79,255.41 L642.55,255.45 L643.30,255.48 L644.06,255.52 L644.82,255.55 L645.57,255.59 L646.33,255.62 L647.09,255.65 L647.84,255.69 L648.60,255.72 L649.36,255.75 L650.11,255.79 L650.87,255.82 L651.63,255.85 L652.38,255.88 L653.14,255.91 L653.90,255.95 L654.65,255.98 L655.41,256.01 L656.17,256.04 L656.92,256.07 L657.68,256.10 L658.43,256.13 L659.19,256.16 L659.95,256.19 L660.70,256.22 L661.46,256.25 L662.22,256.28 L662.97,256.31 L663.73,256.33 L664.49,256.36 L665.24,256.39 L666.00,256.42 L666.76,256.45 L667.51,256.47 L668.27,256.50 L669.03,256.53 L669.78,256.55 L670.54,256.58 L671.30,256.61 L672.05,256.63 L672.81,256.66 L673.57,256.68 L674.32,256.71 L675.08,256.74 L675.83,256.76 L676.59,256.79 L677.35,256.81 L678.10,256.83 L678.86,256.86 L679.62,256.88 L680.37,256.91 L681.13,256.93 L681.89,256.95 L682.64,256.98 L683.40,257.00" stroke="#F73C41" stroke-width="3.3" fill="none" clip-path="url(#cr)"/>
<path d="M457.0,10.6 V260.6" stroke="#383838" stroke-width="1.25" stroke-dasharray="5.0 5.21" fill="none"/>
</g>
<g opacity="0.999" font-family="'Liberation Sans', sans-serif" font-weight="bold" fill="#111" stroke="#111" stroke-width="0.45">
<rect x="177.3" y="16.6" width="144.50" height="59.80" fill="#fff" stroke="#1a1a1a" stroke-width="1.3"/>
<path d="M179.9,25.4 H200.7" stroke="#3FA998" stroke-width="1.9"/>
<path d="M179.9,43.8 H200.7" stroke="#9A1FB5" stroke-width="3.5"/>
<path d="M179.9,64.8 H200.7" stroke="#F73C41" stroke-width="3.5"/>
<rect x="539.1" y="15.3" width="139.20" height="57.70" fill="#fff" stroke="#1a1a1a" stroke-width="1.3"/>
<path d="M541.4,23.6 H561.3" stroke="#3FA998" stroke-width="1.9"/>
<path d="M541.4,41.7 H561.3" stroke="#9A1FB5" stroke-width="3.5"/>
<path d="M541.4,61.9 H561.3" stroke="#F73C41" stroke-width="3.5"/>
<text x="34.51" y="277.00" font-size="13" textLength="7.59" lengthAdjust="spacingAndGlyphs" >0</text>
<text x="72.04" y="277.00" font-size="13" textLength="15.18" lengthAdjust="spacingAndGlyphs" >10</text>
<text x="113.35" y="277.00" font-size="13" textLength="15.18" lengthAdjust="spacingAndGlyphs" >20</text>
<text x="154.67" y="277.00" font-size="13" textLength="15.18" lengthAdjust="spacingAndGlyphs" >30</text>
<text x="195.98" y="277.00" font-size="13" textLength="15.18" lengthAdjust="spacingAndGlyphs" >40</text>
<text x="237.29" y="277.00" font-size="13" textLength="15.18" lengthAdjust="spacingAndGlyphs" >50</text>
<text x="278.61" y="277.00" font-size="13" textLength="15.18" lengthAdjust="spacingAndGlyphs" >60</text>
<text x="319.92" y="277.00" font-size="13" textLength="15.18" lengthAdjust="spacingAndGlyphs" >70</text>
<text x="25.31" y="264.30" font-size="13" textLength="7.81" lengthAdjust="spacingAndGlyphs" >0</text>
<text x="25.31" y="228.66" font-size="13" textLength="7.81" lengthAdjust="spacingAndGlyphs" >1</text>
<text x="25.31" y="193.03" font-size="13" textLength="7.81" lengthAdjust="spacingAndGlyphs" >2</text>
<text x="25.31" y="157.39" font-size="13" textLength="7.81" lengthAdjust="spacingAndGlyphs" >3</text>
<text x="25.31" y="121.76" font-size="13" textLength="7.81" lengthAdjust="spacingAndGlyphs" >4</text>
<text x="25.31" y="86.12" font-size="13" textLength="7.81" lengthAdjust="spacingAndGlyphs" >5</text>
<text x="25.31" y="50.48" font-size="13" textLength="7.81" lengthAdjust="spacingAndGlyphs" >6</text>
<text x="25.31" y="14.85" font-size="13" textLength="7.81" lengthAdjust="spacingAndGlyphs" >7</text>
<text x="400.96" y="277.10" font-size="13" textLength="7.59" lengthAdjust="spacingAndGlyphs" >0</text>
<text x="462.76" y="277.10" font-size="13" textLength="15.18" lengthAdjust="spacingAndGlyphs" >20</text>
<text x="528.35" y="277.10" font-size="13" textLength="15.18" lengthAdjust="spacingAndGlyphs" >40</text>
<text x="593.94" y="277.10" font-size="13" textLength="15.18" lengthAdjust="spacingAndGlyphs" >60</text>
<text x="659.53" y="277.10" font-size="13" textLength="15.18" lengthAdjust="spacingAndGlyphs" >80</text>
<text x="392.51" y="265.00" font-size="13" textLength="7.81" lengthAdjust="spacingAndGlyphs" >0</text>
<text x="392.51" y="214.74" font-size="13" textLength="7.81" lengthAdjust="spacingAndGlyphs" >2</text>
<text x="392.51" y="164.48" font-size="13" textLength="7.81" lengthAdjust="spacingAndGlyphs" >4</text>
<text x="392.51" y="114.22" font-size="13" textLength="7.81" lengthAdjust="spacingAndGlyphs" >6</text>
<text x="392.51" y="63.96" font-size="13" textLength="7.81" lengthAdjust="spacingAndGlyphs" >8</text>
<text x="384.72" y="13.70" font-size="13" textLength="15.62" lengthAdjust="spacingAndGlyphs" >10</text>
<text x="0.50" y="14.00" font-size="17.8" textLength="8.37" lengthAdjust="spacingAndGlyphs"  stroke-width="0.9">a</text>
<text x="11.30" y="14.00" font-size="17.8" textLength="5.47" lengthAdjust="spacingAndGlyphs"  stroke-width="0.9">)</text>
<text x="361.00" y="14.00" font-size="17.8" textLength="9.51" lengthAdjust="spacingAndGlyphs"  stroke-width="0.9">b</text>
<text x="372.80" y="14.00" font-size="17.8" textLength="5.27" lengthAdjust="spacingAndGlyphs"  stroke-width="0.9">)</text>
<text x="161.00" y="296.90" font-size="14.3" textLength="8.41" lengthAdjust="spacingAndGlyphs" font-style="italic">h</text>
<text x="174.30" y="296.90" font-size="14.3" textLength="30.42" lengthAdjust="spacingAndGlyphs" >(nm)</text>
<text x="523.80" y="296.90" font-size="14.3" textLength="8.11" lengthAdjust="spacingAndGlyphs" font-style="italic">h</text>
<text x="535.70" y="296.90" font-size="14.3" textLength="29.41" lengthAdjust="spacingAndGlyphs" >(nm)</text>
<text transform="translate(74.10,41.80) rotate(-90)" x="0.00" y="0" font-size="14.5" textLength="27.20" lengthAdjust="spacingAndGlyphs" >CBF</text>
<text transform="translate(452.10,38.80) rotate(-90)" x="0.00" y="0" font-size="14.5" textLength="25.60" lengthAdjust="spacingAndGlyphs" >CBF</text>
<text transform="translate(14.10,171.90) rotate(-90)" x="0.00" y="0" font-size="16" textLength="10.73" lengthAdjust="spacingAndGlyphs" font-family="'Liberation Serif', serif" font-weight="normal" stroke-width="0.6">Π</text>
<text transform="translate(20.40,159.60) rotate(-90)" x="0.00" y="0" font-size="11.5" textLength="20.77" lengthAdjust="spacingAndGlyphs" >disj</text>
<text transform="translate(14.10,135.20) rotate(-90)" x="0.00" y="0" font-size="14.3" textLength="36.01" lengthAdjust="spacingAndGlyphs" >(kPa)</text>
<text transform="translate(375.10,171.90) rotate(-90)" x="0.00" y="0" font-size="16" textLength="10.73" lengthAdjust="spacingAndGlyphs" font-family="'Liberation Serif', serif" font-weight="normal" stroke-width="0.6">Π</text>
<text transform="translate(381.40,159.60) rotate(-90)" x="0.00" y="0" font-size="11.5" textLength="20.77" lengthAdjust="spacingAndGlyphs" >disj</text>
<text transform="translate(375.10,135.20) rotate(-90)" x="0.00" y="0" font-size="14.3" textLength="36.01" lengthAdjust="spacingAndGlyphs" >(kPa)</text>
<text x="203.00" y="29.80" font-size="11.9" textLength="27.01" lengthAdjust="spacingAndGlyphs" >Data</text>
<text x="203.40" y="45.90" font-size="11.9" textLength="36.28" lengthAdjust="spacingAndGlyphs" >Model</text>
<text x="244.90" y="45.90" font-size="11.9" textLength="24.72" lengthAdjust="spacingAndGlyphs" >Eq.4</text>
<text x="272.40" y="46.10" font-size="13.684999999999999" textLength="7.08" lengthAdjust="spacingAndGlyphs" font-family="'Liberation Serif', serif" font-weight="normal" stroke-width="0.6">Γ</text>
<text x="203.40" y="67.10" font-size="11.9" textLength="36.28" lengthAdjust="spacingAndGlyphs" >Model</text>
<text x="244.90" y="67.10" font-size="11.9" textLength="24.72" lengthAdjust="spacingAndGlyphs" >Eq.4</text>
<text x="272.40" y="67.30" font-size="13.684999999999999" textLength="7.08" lengthAdjust="spacingAndGlyphs" font-family="'Liberation Serif', serif" font-weight="normal" stroke-width="0.6">Γ</text>
<text x="280.00" y="51.80" font-size="9.520000000000001" textLength="11.52" lengthAdjust="spacingAndGlyphs" >eq</text>
<text x="280.50" y="73.30" font-size="9.520000000000001" textLength="38.12" lengthAdjust="spacingAndGlyphs" >Max-Ma</text>
<text x="564.00" y="27.80" font-size="11.9" textLength="25.81" lengthAdjust="spacingAndGlyphs" >Data</text>
<text x="564.00" y="43.20" font-size="11.9" textLength="35.18" lengthAdjust="spacingAndGlyphs" >Model</text>
<text x="602.90" y="43.20" font-size="11.9" textLength="24.62" lengthAdjust="spacingAndGlyphs" >Eq.4</text>
<text x="630.70" y="43.40" font-size="13.684999999999999" textLength="6.98" lengthAdjust="spacingAndGlyphs" font-family="'Liberation Serif', serif" font-weight="normal" stroke-width="0.6">Γ</text>
<text x="564.00" y="63.50" font-size="11.9" textLength="35.18" lengthAdjust="spacingAndGlyphs" >Model</text>
<text x="602.90" y="63.50" font-size="11.9" textLength="24.62" lengthAdjust="spacingAndGlyphs" >Eq.4</text>
<text x="630.70" y="63.70" font-size="13.684999999999999" textLength="6.98" lengthAdjust="spacingAndGlyphs" font-family="'Liberation Serif', serif" font-weight="normal" stroke-width="0.6">Γ</text>
<text x="638.00" y="48.30" font-size="9.520000000000001" textLength="10.52" lengthAdjust="spacingAndGlyphs" >eq</text>
<text x="638.00" y="69.60" font-size="9.520000000000001" textLength="36.73" lengthAdjust="spacingAndGlyphs" >Max-Ma</text>
</g>
</svg></div></body></html>
